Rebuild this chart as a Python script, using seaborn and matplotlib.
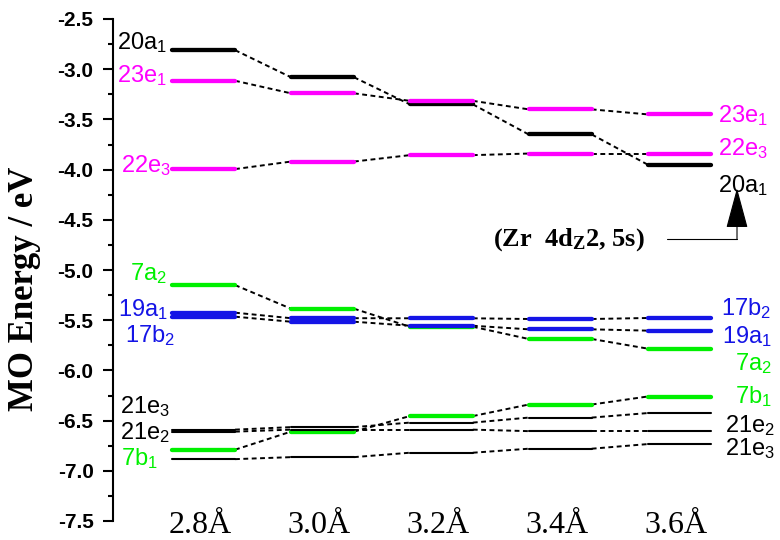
import matplotlib
matplotlib.use('Agg')
import matplotlib.pyplot as plt
import seaborn as sns
import pandas as pd
import numpy as np

# Zr-Zr distances (columns of the correlation diagram)
distances = ['2.8Å', '3.0Å', '3.2Å', '3.4Å', '3.6Å']

# MO energies in eV, one list per orbital, one value per distance
e_20a1 = [-2.81, -3.08, -3.35, -3.65, -3.95]
e_23e1 = [-3.115, -3.24, -3.315, -3.40, -3.45]
e_22e3 = [-3.995, -3.92, -3.856, -3.84, -3.84]
e_7a2 = [-5.15, -5.385, -5.565, -5.687, -5.783]
e_19a1 = [-5.465, -5.515, -5.555, -5.591, -5.604]
e_17b2 = [-5.425, -5.48, -5.481, -5.488, -5.478]
e_7b1 = [-6.79, -6.61, -6.455, -6.34, -6.26]
e_21e_a = [-6.59, -6.565, -6.52, -6.47, -6.425]
e_21e_b = [-6.61, -6.59, -6.59, -6.605, -6.605]
e_21e_c = [-6.884, -6.864, -6.82, -6.78, -6.734]

MAGENTA = '#FF00FF'
GREEN = '#00F000'
BLUE = '#1414E6'

# draw order matters: later ones sit on top
series = [
    (e_7a2, GREEN, 3.1),
    (e_19a1, BLUE, 3.1),
    (e_17b2, BLUE, 3.1),
    (e_7b1, GREEN, 3.1),
    (e_21e_a, 'black', 1.5),
    (e_21e_b, 'black', 1.5),
    (e_21e_c, 'black', 1.5),
    (e_20a1, 'black', 3.1),
    (e_23e1, MAGENTA, 3.1),
    (e_22e3, MAGENTA, 3.1),
]

sns.set_theme(style='white')
plt.rcParams['font.family'] = ['Liberation Sans', 'DejaVu Sans']
plt.rcParams['axes.unicode_minus'] = False
plt.rcParams['text.color'] = 'black'
plt.rcParams['ytick.color'] = 'black'
plt.rcParams['axes.labelcolor'] = 'black'

fig = plt.figure(figsize=(7.8, 5.4), dpi=100)
ax = fig.add_axes([113 / 780, 19 / 540, 667 / 780, 502 / 540])
hw = 0.265  # half width of a level bar (category units)
xs = np.arange(len(distances))

# dashed connectors between neighbouring columns
rows = []
seg = 0
for vals, _, _ in series:
    for i in range(len(vals) - 1):
        rows.append({'x': xs[i] + hw, 'energy': vals[i], 'seg': seg})
        rows.append({'x': xs[i + 1] - hw, 'energy': vals[i + 1], 'seg': seg})
        seg += 1
conn = pd.DataFrame(rows)
sns.lineplot(data=conn, x='x', y='energy', units='seg', estimator=None,
             color='black', lw=1.4, linestyle=(0, (2.5, 1.8)), ax=ax, zorder=1)

# energy levels
for z, (vals, col, lw) in enumerate(series):
    ax.hlines(vals, xs - hw, xs + hw, colors=col, linewidth=lw,
              capstyle='round', zorder=2 + z * 0.1)

ax.set_xlim((113 - 203.5) / 118.9, (780 - 203.5) / 118.9)
ax.set_ylim(-7.5, -2.5)
for s in ['top', 'right', 'bottom']:
    ax.spines[s].set_visible(False)
ax.spines['left'].set_linewidth(1.5)
ax.spines['left'].set_color('black')
ax.set_xticks([])
ax.set_yticks(np.arange(-7.5, -2.49, 0.5))
ax.set_yticks(np.arange(-7.25, -2.5, 0.5), minor=True)
ax.set_yticklabels([f'{v:.1f}' for v in np.arange(-7.5, -2.49, 0.5)],
                   fontweight='bold', fontsize=15)
ax.tick_params(axis='y', which='major', direction='out', length=7, width=1.5,
               pad=7, left=True, color='black')
ax.tick_params(axis='y', which='minor', direction='out', length=3.6, width=1.5,
               left=True, color='black')
ax.set_xlabel('')
ax.set_ylabel('')

fig.text(25 / 780, 1 - 289 / 540, 'MO Energy / eV', rotation=90,
         family='Liberation Serif', fontweight='bold', fontsize=25,
         ha='center', va='center')

# distance labels under the columns
for i, lab in enumerate(distances):
    ax.text(xs[i] - 0.03, -7.615, lab, ha='center', va='baseline',
            family='Liberation Serif', fontsize=23, clip_on=False)

# orbital labels: (text, x, y, ha, colour)
left_x = -0.3
right_x = 4.33
labels = [
    ('20a$\\mathregular{_1}$', left_x - 0.01, -2.80, 'right', 'black'),
    ('23e$\\mathregular{_1}$', left_x - 0.01, -3.125, 'right', MAGENTA),
    ('22e$\\mathregular{_3}$', left_x + 0.03, -4.02, 'right', MAGENTA),
    ('7a$\\mathregular{_2}$', left_x - 0.01, -5.10, 'right', GREEN),
    ('19a$\\mathregular{_1}$', left_x, -5.46, 'right', BLUE),
    ('17b$\\mathregular{_2}$', left_x + 0.06, -5.717, 'right', BLUE),
    ('21e$\\mathregular{_3}$', left_x + 0.02, -6.43, 'right', 'black'),
    ('21e$\\mathregular{_2}$', left_x + 0.02, -6.68, 'right', 'black'),
    ('7b$\\mathregular{_1}$', left_x - 0.08, -6.946, 'right', GREEN),
    ('23e$\\mathregular{_1}$', right_x, -3.524, 'left', MAGENTA),
    ('22e$\\mathregular{_3}$', right_x, -3.856, 'left', MAGENTA),
    ('20a$\\mathregular{_1}$', right_x, -4.22, 'left', 'black'),
    ('17b$\\mathregular{_2}$', right_x + 0.02, -5.45, 'left', BLUE),
    ('19a$\\mathregular{_1}$', right_x + 0.03, -5.733, 'left', BLUE),
    ('7a$\\mathregular{_2}$', right_x + 0.14, -6.0, 'left', GREEN),
    ('7b$\\mathregular{_1}$', right_x + 0.14, -6.33, 'left', GREEN),
    ('21e$\\mathregular{_2}$', right_x + 0.06, -6.61, 'left', 'black'),
    ('21e$\\mathregular{_3}$', right_x + 0.06, -6.84, 'left', 'black'),
]
for txt, x, y, ha, col in labels:
    ax.text(x, y, txt, ha=ha, va='baseline', color=col, fontsize=17,
            clip_on=False)

# Zr 4dz2 / 5s annotation with elbow arrow
ax.text(2.435, -4.753, '(Zr  4d$\\mathregular{_Z}$2, 5s)', ha='left',
        va='baseline', family='Liberation Serif', fontweight='bold',
        fontsize=19)
ax.plot([3.898, 4.487], [-4.693, -4.693], color='black', lw=0.8)
ax.annotate('', xy=(4.487, -4.185), xytext=(4.487, -4.693),
            arrowprops=dict(arrowstyle='-|>,head_length=1.3,head_width=0.35',
                            mutation_scale=20, color='black', lw=0.8,
                            shrinkA=0, shrinkB=0))

fig.savefig('out.png', dpi=100)
